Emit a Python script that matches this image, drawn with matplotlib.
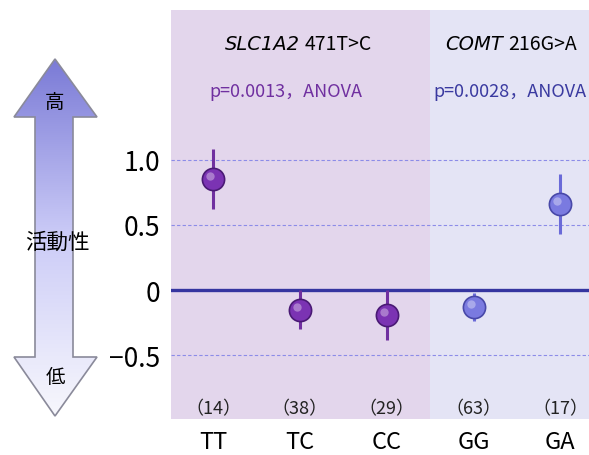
import numpy as np
import matplotlib.pyplot as plt
from matplotlib.patches import Polygon
from matplotlib.transforms import blended_transform_factory, offset_copy

plt.rcParams['font.family'] = ['Noto Sans CJK JP', 'DejaVu Sans']

# data
genotypes = ['TT', 'TC', 'CC', 'GG', 'GA']
counts = ['（14）', '（38）', '（29）', '（63）', '（17）']
means = [0.85, -0.15, -0.19, -0.13, 0.66]
errs = [0.23, 0.15, 0.19, 0.11, 0.23]
group = [0, 0, 0, 1, 1]
yticks = [1.0, 0.5, 0, -0.5]
yticklabels = ['1.0', '0.5', '0', '−0.5']

purple = '#7030a0'
blue = '#6a6ad8'
dot_face = ['#7b33b3', '#7a7ae0']
dot_edge = ['#4a1a75', '#4848a8']
bg = ['#e3d6ec', '#e4e4f5']
ptext = ['#7030a0', '#3a3aa0']

fig = plt.figure(figsize=(5.89, 4.56), dpi=100)
W, H = 589, 456

# ---- left arrow (figure pixel coords) ----
ax_arr = fig.add_axes([0, 0, 1, 1])
ax_arr.set_xlim(0, W)
ax_arr.set_ylim(H, 0)
ax_arr.axis('off')
arrow_pts = [(55, 60), (97, 118), (73, 118), (73, 358), (97, 358), (55, 417),
             (14, 358), (35, 358), (35, 118), (14, 118)]
grad = np.linspace(0, 1, 256)[:, None]
top_c = np.array([0.48, 0.48, 0.84])
mid_c = np.array([0.80, 0.80, 0.97])
bot_c = np.array([0.97, 0.97, 0.99])
cols = np.where(grad < 0.5,
                top_c + (mid_c - top_c) * (grad / 0.5),
                mid_c + (bot_c - mid_c) * ((grad - 0.5) / 0.5))
img = np.repeat(cols[:, None, :], 2, axis=1).reshape(256, 2, 3)
im = ax_arr.imshow(img, extent=(14, 97, 417, 60), aspect='auto', zorder=1)
poly = Polygon(arrow_pts, closed=True, facecolor='none', edgecolor='#8a8a9a', lw=1.2, zorder=2)
ax_arr.add_patch(poly)
im.set_clip_path(poly)
ax_arr.text(55, 103, '高', ha='center', va='center', fontsize=14, color='black')
ax_arr.text(57, 243, '活動性', ha='center', va='center', fontsize=15.5, color='black')
ax_arr.text(55, 378, '低', ha='center', va='center', fontsize=14, color='black')

# ---- main panel ----
ax = fig.add_axes([171 / W, 36 / H, 1 - 171 / W, 409 / H])
x = np.arange(len(genotypes))
ax.set_xlim(-0.485, 4.33)
ax.set_ylim(-0.99, 2.15)
ax.axvspan(-0.485, 2.5, color=bg[0], zorder=0, lw=0)
ax.axvspan(2.5, 4.33, color=bg[1], zorder=0, lw=0)

for yv in [1.0, 0.5, -0.5]:
    ax.axhline(yv, color='#8c8ce8', lw=0.8, ls=(0, (3, 2)), zorder=1)
ax.axhline(0, color='#3535a0', lw=2.4, zorder=2)

hl = offset_copy(ax.transData, fig=fig, x=-3, y=3, units='dots')
for xi, m, e, g in zip(x, means, errs, group):
    ax.plot([xi, xi], [m - e, m + e], color=purple if g == 0 else blue, lw=2.2,
            solid_capstyle='butt', zorder=3)
    ax.plot(xi, m, 'o', ms=16, mfc=dot_face[g], mec=dot_edge[g], mew=1.2, zorder=4)
    ax.plot(xi, m, 'o', ms=6, mfc='white', mec='none', alpha=0.35, zorder=5, transform=hl)

ax.set_yticks(yticks)
ax.set_yticklabels(yticklabels, fontsize=19)
ax.tick_params(axis='y', length=0, pad=8)
ax.set_xticks([])
for s in ax.spines.values():
    s.set_visible(False)

# counts and genotype labels
for xi, c in zip(x, counts):
    ax.text(xi, -0.905, c, ha='center', va='center', fontsize=13, color='#222222', zorder=6)
tr = blended_transform_factory(ax.transData, fig.transFigure)
for xi, gname in zip(x, genotypes):
    ax.text(xi, (H - 443) / H, gname, ha='center', va='center', fontsize=17,
            transform=tr, clip_on=False)

# headers
ft = blended_transform_factory(fig.transFigure, fig.transFigure)
ax.text(300 / W, (H - 45) / H, 'SLC1A2', ha='right', va='center', fontsize=14,
        family='DejaVu Sans', style='italic', transform=ft)
ax.text(305 / W, (H - 45) / H, '471T>C', ha='left', va='center', fontsize=14, transform=ft)
ax.text(503 / W, (H - 45) / H, 'COMT', ha='right', va='center', fontsize=14,
        family='DejaVu Sans', style='italic', transform=ft)
ax.text(508 / W, (H - 45) / H, '216G>A', ha='left', va='center', fontsize=14, transform=ft)

ax.text(0.84, 1.53, 'p=0.0013，ANOVA', ha='center', va='center', fontsize=13, color=ptext[0])
ax.text(3.42, 1.53, 'p=0.0028，ANOVA', ha='center', va='center', fontsize=13, color=ptext[1])

fig.savefig('out.png', dpi=100)
